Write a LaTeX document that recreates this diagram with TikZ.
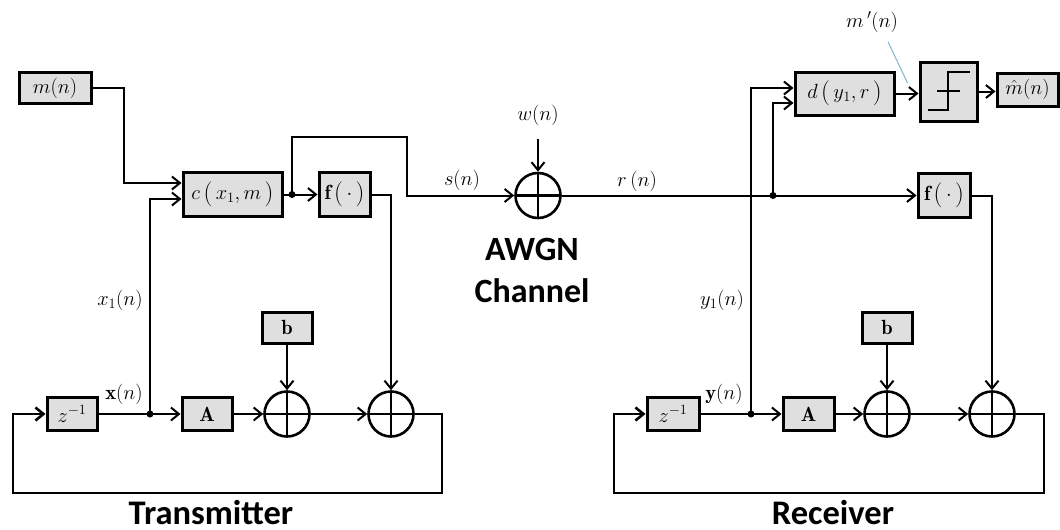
\documentclass[tikz,border=0pt]{standalone}
\usepackage{fix-cm}
\usepackage{fontspec}
\newfontfamily\calib{Carlito}
\usetikzlibrary{arrows.meta}
\definecolor{boxgray}{HTML}{DFDFDF}
\definecolor{callout}{HTML}{7FB5D8}
\newcommand{\bigopen}{\mathopen{\raisebox{-1.5pt}{\fontsize{25}{25}\selectfont(}}}
\newcommand{\bigclose}{\mathclose{\raisebox{-1.5pt}{\fontsize{25}{25}\selectfont)}}}
\newcommand{\tallpar}[1]{\,\bigopen\,#1\,\bigclose}
\begin{document}
\begin{tikzpicture}[x=1pt,y=-1pt,
  every node/.style={font=\fontsize{20.5}{24}\selectfont},
  blk/.style 2 args={draw,line width=3pt,fill=boxgray,inner sep=0pt,minimum width=#1,minimum height=#2},
  sum/.style={draw,circle,line width=2.6pt,minimum size=45pt,inner sep=0pt,
    path picture={\draw[line width=2.6pt] (path picture bounding box.north) -- (path picture bounding box.south)
      (path picture bounding box.west) -- (path picture bounding box.east);}},
  conn/.style={line width=2pt},
  arr/.style={conn,-{Straight Barb[length=8pt,width=13pt]}},
  fbloop/.style={line width=2.6pt},
  dot/.style={circle,fill=black,inner sep=0pt,minimum size=7pt},
  title/.style={font=\calib\bfseries\fontsize{34.5}{42}\selectfont,inner sep=0pt},
  title2/.style={font=\calib\bfseries\fontsize{34}{42}\selectfont,align=center,inner sep=0pt}]
\useasboundingbox (0,0) rectangle (1060,530);

% ---------- Transmitter ----------
\node[blk={72pt}{31pt}] (m) at (55,88) {$m(n)$};
\node[blk={99pt}{44pt}] (c) at (232.5,194.5) {$c\tallpar{x_1,m}$};
\node[blk={51pt}{44pt}] (fT) at (344.5,194.5) {$\mathbf{f}\tallpar{\cdot}$};
\node[dot] (dc) at (292,194.5) {};
\node[blk={50pt}{33pt}] (zT) at (72,414) {$z^{-1}$};
\node[dot] (dx) at (150,414) {};
\node[blk={50pt}{33pt}] (AT) at (207,414) {$\mathbf{A}$};
\node[sum] (s1T) at (287,414) {};
\node[sum] (s2T) at (391,414) {};
\node[blk={50pt}{31pt}] (bT) at (287,327.5) {$\mathbf{b}$};

\node (x1l) at (120,300) {$x_1(n)$};
\node (xl) at (124,394) {$\mathbf{x}(n)$};
\node[title,anchor=base] (txl) at (211,524) {Transmitter};

\draw[arr] (m.east) -- ++(31,0) |- ([yshift=11.5pt]c.west);
\draw[arr] (dx.center) |- ([yshift=-4.5pt]c.west);
\draw[arr] (c.east) -- (fT.west);
\draw[arr] (fT.east) -| (s2T.north);
\draw[arr] (zT.east) -- (AT.west);
\draw[arr] (AT.east) -- (s1T.west);
\draw[arr] (s1T.east) -- (s2T.west);
\draw[arr] (bT.south) -- (s1T.north);
\draw[fbloop,-{Straight Barb[length=8pt,width=13pt]}] (s2T.east) -- ++(27,0) |- (13,493) |- (zT.west);

% ---------- Channel ----------
\node[sum] (ch) at (538,195.5) {};
\node (w) at (538,115) {$w(n)$};
\node (sl) at (462,180) {$s(n)$};
\node (rl) at (637,181) {$r\,(n)$};
\node[title2] (awgnlbl) at (532,270) {AWGN\\Channel};
\draw[arr] (dc.center) |- (407,137) |- (ch.west);
\draw[arr] ([yshift=-10pt]w.south) -- (ch.north);

% ---------- Receiver ----------
\node[blk={99pt}{43pt}] (d) at (844.5,93.5) {$d\tallpar{y_1,r}$};
\node[blk={57pt}{59pt}] (thr) at (948.5,91.5) {};
\node[blk={61pt}{33pt}] (mh) at (1027.5,89.5) {$\hat{m}(n)$};
\node[blk={52pt}{44pt}] (fR) at (944,195.5) {$\mathbf{f}\tallpar{\cdot}$};
\node[dot] (dr) at (773,195.5) {};
\node[blk={52pt}{33pt}] (zR) at (673,414) {$z^{-1}$};
\node[dot] (dy) at (751,414) {};
\node[blk={51pt}{33pt}] (AR) at (808.5,414) {$\mathbf{A}$};
\node[sum] (s1R) at (887,414) {};
\node[sum] (s2R) at (992,414) {};
\node[blk={50pt}{31pt}] (bR) at (887,327.5) {$\mathbf{b}$};

\node (y1l) at (722,300) {$y_1(n)$};
\node (yl) at (724,394) {$\mathbf{y}(n)$};
\node (mpl) at (872,22) {$m\,'(n)$};
\node[title,anchor=base] (rxl) at (833,524) {Receiver};

% step symbol
\draw[line width=2.5pt] ([shift={(-21,18.5)}]thr.center) -- ([shift={(-0.5,18.5)}]thr.center)
  -- ([shift={(-0.5,-19.5)}]thr.center) -- ([shift={(21.5,-19.5)}]thr.center);
\draw[line width=2.5pt] ([shift={(-11.5,-0.5)}]thr.center) -- ([shift={(11.5,-0.5)}]thr.center);

\draw[arr] (ch.east) -- (fR.west);
\draw[arr] (dr.center) |- ([yshift=-9.5pt]d.west);
\draw[arr] (dy.center) |- ([yshift=5.5pt]d.west);
\draw[arr] (d.east) -- (d.east -| thr.west);
\draw[arr] (thr.east) -- (thr.east -| mh.west);
\draw[arr] (fR.east) -| (s2R.north);
\draw[arr] (zR.east) -- (AR.west);
\draw[arr] (AR.east) -- (s1R.west);
\draw[arr] (s1R.east) -- (s2R.west);
\draw[arr] (bR.south) -- (s1R.north);
\draw[fbloop,-{Straight Barb[length=8pt,width=13pt]}] (s2R.east) -- ++(28,0) |- (614,493) |- (zR.west);
\draw[callout,line width=1pt] ([xshift=16pt,yshift=-6pt]mpl.south) -- ([xshift=-11pt,yshift=8.5pt]thr.west);
\end{tikzpicture}
\end{document}
